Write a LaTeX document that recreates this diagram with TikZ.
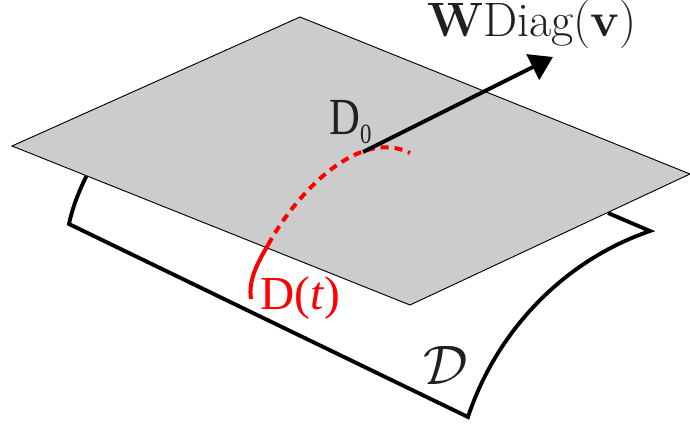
\documentclass[tikz,border=0pt]{standalone}
\usepackage{fontspec}
\newfontfamily\timesfont{Liberation Serif}
\usetikzlibrary{arrows.meta}
\definecolor{plane}{RGB}{204,204,204}
\definecolor{ink}{RGB}{35,31,32}
\tikzset{
  >={Triangle[length=17pt,width=21pt]},
  tangent plane/.style={draw=black,line width=0.7pt,fill=plane},
  manifold/.style={draw=black,line width=2.9pt,line join=miter,fill=white},
  geodesic/.style={draw=red,line width=3pt},
  vec/.style={->,draw=black,line width=3pt},
  lab/.style={anchor=base west,inner sep=0pt,text=ink,font=\fontsize{36.2}{40}\selectfont},
  tlab/.style={anchor=base west,inner sep=0pt,font=\fontsize{35.5}{44}\selectfont\timesfont},
}
\begin{document}
\begin{tikzpicture}[x=0.75pt,y=-0.75pt]
  \useasboundingbox (0,0) rectangle (690,424);
  % curved sheet underneath
  \coordinate (sheetA) at (87,175);
  \coordinate (sheetB) at (69,224);
  \coordinate (sheetC) at (468,417);
  \coordinate (sheetD) at (650,231);
  \coordinate (sheetE) at (608,213);
  \draw[manifold,fill=none] (sheetA) .. controls (77,195) and (72,210) .. (sheetB) -- (sheetC)
    .. controls (495,335) and (560,262) .. (sheetD) -- (sheetE);
  % flat plane on top
  \coordinate (planeL) at (12,146);
  \coordinate (planeT) at (300,17);
  \coordinate (planeR) at (690,174);
  \coordinate (planeB) at (410,305);
  \draw[tangent plane] (planeL) -- (planeT) -- (planeR) -- (planeB) -- cycle;
  % path through the point
  \coordinate (start) at (363,152);
  \coordinate (cross) at (268,245);
  \coordinate (low) at (251,299);
  \coordinate (hump) at (410,153);
  \coordinate (tip) at (553,57);
  \draw[geodesic] (low) .. controls (248,280) and (258,262) .. (cross);
  \draw[geodesic,dash pattern=on 6pt off 4.5pt] (cross) .. controls (295,195) and (358,127) .. (hump);
  \draw[vec] (start) -- (tip);
  \node[lab] (dirlab) at (427,37) {\textbf{W}Diag(\textbf{v})};
  \node[tlab,text=ink,xscale=0.9,yscale=1.1] (pointlab) at (329,135) {D\raisebox{-6pt}{\fontsize{19}{22}\selectfont 0}};
  \node[tlab,text=red] (pathlab) at (260,310) {D(\textit{t})};
  \node[lab,scale=1.68] (setlab) at (423,385) {$\mathcal{D}$};
\end{tikzpicture}
\end{document}
